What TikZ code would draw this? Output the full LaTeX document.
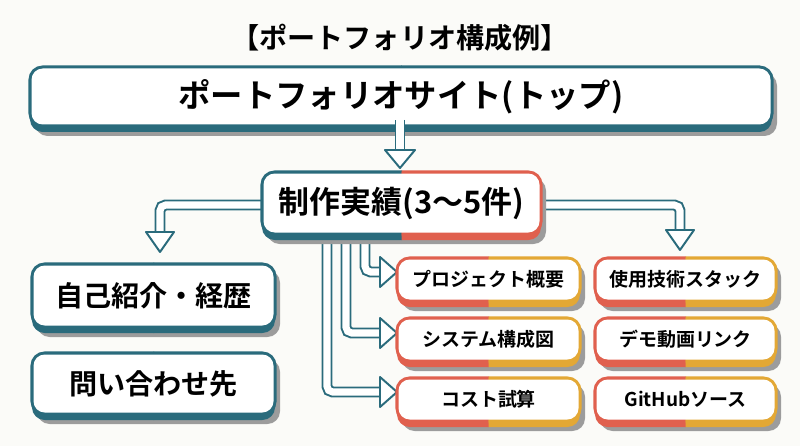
\documentclass[tikz,border=0pt]{standalone}
\usepackage{fontspec}
\setmainfont{Noto Sans CJK JP}[BoldFont={Noto Sans CJK JP Bold}]
\definecolor{teal}{HTML}{2A6B7C}
\definecolor{redc}{HTML}{E0604E}
\definecolor{yel}{HTML}{E3A835}
\definecolor{shad}{HTML}{9C9C9C}
\definecolor{bg}{HTML}{FBFBF8}
\tikzset{
 harrow/.style={draw=teal,line width=1.4pt,double=white,double distance=5pt,rounded corners=4pt},
 hhead/.style={draw=teal,fill=white,line width=1.4pt,line join=round},
}
\newcommand\pbox[9]{%
 \fill[shad,rounded corners=9pt] (#1+5,#2+6) rectangle (#3+5,#4+10);
 \begin{scope}\clip (#1-8,#2-8) rectangle ({(#1+#3)/2+0.5},#4+15);
  \fill[#5,rounded corners=9pt] (#1,#2) rectangle (#3,#4+6);
  \draw[#5,line width=2.2pt,rounded corners=9pt] (#1,#2) rectangle (#3,#4);
 \end{scope}
 \begin{scope}\clip ({(#1+#3)/2},#2-8) rectangle (#3+8,#4+15);
  \fill[#6,rounded corners=9pt] (#1,#2) rectangle (#3,#4+6);
  \draw[#6,line width=2.2pt,rounded corners=9pt] (#1,#2) rectangle (#3,#4);
 \end{scope}
 \fill[white,rounded corners=8pt] (#1+1.5,#2+1.5) rectangle (#3-1.5,#4-1.5);
 \node[font=\bfseries#9] (#7) at ({(#1+#3)/2},{(#2+#4)/2}) {#8};
}
\begin{document}
\begin{tikzpicture}[x=0.025cm,y=-0.025cm]
\fill[bg] (0,0) rectangle (800,446);
\useasboundingbox (0,0) rectangle (800,446);
\node[font=\bfseries\fontsize{20}{22}\selectfont] (title) at (400,38) {【ポートフォリオ構成例】};
% side arrows from middle box
\draw[harrow] (262,205) -- (160,205) -- (160,232);
\draw[hhead] (146,232) -- (174,232) -- (160,252) -- cycle;
\draw[harrow] (541,205) -- (680,205) -- (680,230);
\draw[hhead] (666,230) -- (694,230) -- (680,250) -- cycle;
% branch arrows
\draw[harrow] (327,236) -- (327,392) -- (380,392);
\draw[hhead] (380,377) -- (380,407) -- (397,392) -- cycle;
\draw[harrow] (346,236) -- (346,333) -- (380,333);
\draw[hhead] (380,318) -- (380,348) -- (397,333) -- cycle;
\draw[harrow] (365,236) -- (365,272) -- (380,272);
\draw[hhead] (380,257) -- (380,287) -- (397,272) -- cycle;
% boxes
\pbox{30}{67}{772}{126}{teal}{teal}{top}{ポートフォリオサイト(トップ)}{\fontsize{23}{26}\selectfont}
\pbox{262}{172}{541}{234}{teal}{redc}{works}{制作実績(3〜5件)}{\fontsize{22}{26}\selectfont}
\pbox{32}{264}{275}{327}{teal}{teal}{intro}{自己紹介・経歴}{\fontsize{20}{24}\selectfont}
\pbox{32}{353}{275}{414}{teal}{teal}{contact}{問い合わせ先}{\fontsize{20}{24}\selectfont}
\pbox{397}{258}{580}{301}{redc}{yel}{proj}{プロジェクト概要}{\fontsize{13.5}{16}\selectfont}
\pbox{397}{318}{580}{361}{redc}{yel}{sys}{システム構成図}{\fontsize{13.5}{16}\selectfont}
\pbox{397}{378}{580}{421}{redc}{yel}{cost}{コスト試算}{\fontsize{13.5}{16}\selectfont}
\pbox{595}{258}{776}{301}{redc}{yel}{tech}{使用技術スタック}{\fontsize{13.5}{16}\selectfont}
\pbox{595}{318}{776}{361}{redc}{yel}{demo}{デモ動画リンク}{\fontsize{13.5}{16}\selectfont}
\pbox{595}{378}{776}{421}{redc}{yel}{git}{GitHubソース}{\fontsize{13.5}{16}\selectfont}
% top arrow
\draw[harrow] (400,120) -- (400,150);
\draw[hhead] (385,150) -- (415,150) -- (400,168) -- cycle;
\end{tikzpicture}
\end{document}
